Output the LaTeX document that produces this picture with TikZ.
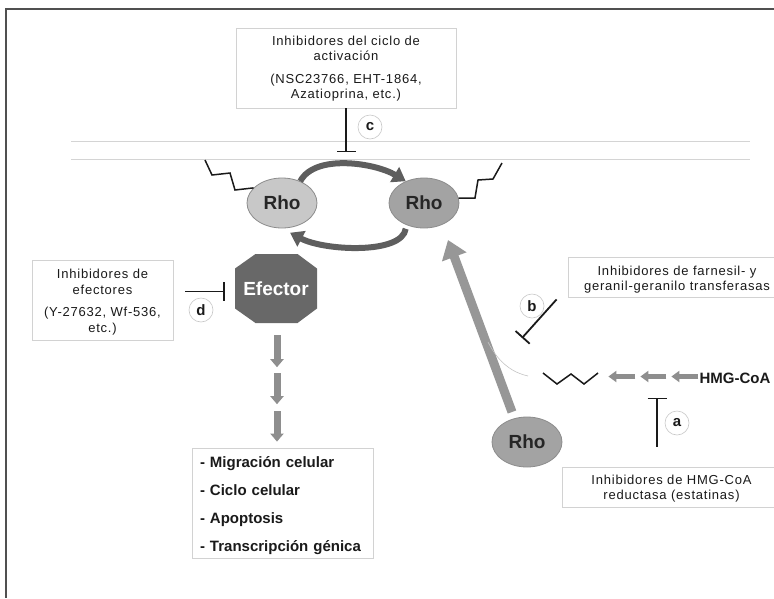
\documentclass[tikz,border=0pt]{standalone}
\usepackage{fontspec}
\setmainfont{Liberation Sans}
\newfontfamily\boxfont[LetterSpace=6]{Liberation Sans}
\usetikzlibrary{arrows.meta,shapes.geometric}
\newcommand{\tstrut}[1]{\rule{0pt}{#1}}
\definecolor{framegray}{HTML}{505050}
\definecolor{membgray}{HTML}{D4D4D4}
\definecolor{boxgray}{HTML}{D2D2D2}
\definecolor{lblgray}{HTML}{C8C8C8}
\definecolor{rholight}{HTML}{C8C8C8}
\definecolor{rhodark}{HTML}{A3A3A3}
\definecolor{rhoedge}{HTML}{8C8C8C}
\definecolor{rhotext}{HTML}{262626}
\definecolor{effgray}{HTML}{686868}
\definecolor{arrgray}{HTML}{8E8E8E}
\definecolor{biggray}{HTML}{979797}
\definecolor{cycgray}{HTML}{5E5E5E}
\definecolor{thingray}{HTML}{C4C4C4}
\definecolor{inkblack}{HTML}{1A1A1A}
\begin{document}
\begin{tikzpicture}[x=1pt,y=-1pt,
  infobox/.style={draw=boxgray, line width=0.8pt, fill=white, align=center, inner sep=0pt,
    font=\boxfont\fontsize{13}{15}\selectfont, text=inkblack},
  rho/.style={ellipse, draw=rhoedge, line width=0.8pt, minimum width=70pt, minimum height=50pt,
    inner sep=0pt, font=\bfseries\fontsize{19}{19}\selectfont, text=rhotext},
  inhib/.style={line width=1.8pt, draw=inkblack, -{Bar[width=19pt]}},
  lbl/.style={circle, draw=lblgray, line width=0.6pt, fill=white, minimum size=24pt, inner sep=0pt,
    font=\bfseries\fontsize{15}{15}\selectfont, text=inkblack},
  blockdown/.style={line width=7pt, draw=arrgray, -{Triangle[width=13pt,length=8pt]}},
  blockleft/.style={line width=5pt, draw=arrgray, -{Triangle[width=11pt,length=8pt]}},
  cyc/.style={line width=6pt, draw=cycgray, -{Triangle[width=17pt,length=13pt]}},
  bigarr/.style={line width=9pt, draw=biggray, -{Triangle[width=25pt,length=18pt]}},
  zig/.style={line width=1.5pt, draw=inkblack, line join=miter},
  memb/.style={line width=1pt, draw=membgray},
  framel/.style={line width=2pt, draw=framegray}
]
\useasboundingbox (0,0) rectangle (774,598);
\fill[white] (0,0) rectangle (774,598);

% frame
\draw[framel] (774,9) -- (6,9) -- (6,598);

% membrane
\coordinate (m1a) at (71,141); \coordinate (m1b) at (750,141);
\coordinate (m2a) at (71,159); \coordinate (m2b) at (750,159);
\draw[memb] (m1a) -- (m1b);
\draw[memb] (m2a) -- (m2b);

% boxes
\node[infobox, minimum width=220pt, minimum height=80pt] (boxc) at (346,68)
  {\tstrut{11.5pt}Inhibidores del ciclo de\\activación\\[8pt](NSC23766, EHT-1864,\\Azatioprina, etc.)};
\node[infobox, minimum width=141pt, minimum height=80pt, font=\boxfont\fontsize{13}{16.5}\selectfont] (boxd) at (102.5,300)
  {\tstrut{13.5pt}Inhibidores de\\efectores\\[5pt](Y-27632, Wf-536,\\etc.)};
\node[infobox, minimum width=218pt, minimum height=40pt] (boxb) at (677,277)
  {\tstrut{15.5pt}Inhibidores de farnesil- y\\geranil-geranilo transferasas};
\node[infobox, minimum width=219pt, minimum height=40pt] (boxa) at (671.5,487)
  {\tstrut{13.5pt}Inhibidores de HMG-CoA\\reductasa (estatinas)};
\node[draw=boxgray, line width=0.8pt, fill=white, minimum width=181pt, minimum height=110pt,
  text width=165pt, align=left, inner sep=0pt, text=inkblack,
  font=\bfseries\fontsize{15}{28}\selectfont] (outc) at (282.5,503)
  {\tstrut{16pt}- Migración celular\\- Ciclo celular\\- Apoptosis\\- Transcripción génica};

% Rho proteins
\node[rho, fill=rholight] (rhoL) at (282,203) {Rho};
\node[rho, fill=rhodark] (rhoR) at (424,203) {Rho};
\node[rho, fill=rhodark] (rhoB) at (527,442) {Rho};

% lipid anchors
\coordinate (zl) at (205,160);
\draw[zig] (zl) -- ++(7,15) -- ++(18,-2) -- ++(5,17) -- (rhoL.152);
\coordinate (zr) at (502,163);
\draw[zig] (rhoR.8) -- (475,198) -- (478,180) -- (493,179) -- (zr);
\coordinate (zb) at (543,373);
\coordinate (zbe) at (598,373);
\draw[zig] (zb) -- ++(14,11) -- ++(14,-10) -- ++(13,10) -- (zbe);

% activation cycle
\draw[cyc] (rhoL.50) .. controls +(15,-28) and +(-30,-18) .. (rhoR.130);
\draw[cyc] ([yshift=-4pt]rhoR.-130) .. controls +(-4,26) and +(34,18) .. ([yshift=-5pt]rhoL.-72);

% efector (octagon)
\coordinate (effc) at (276,288.5);
\fill[effgray] ([shift={(-20.5,-34.5)}]effc) -- ([shift={(21.5,-34.5)}]effc)
  -- ([shift={(41,-20)}]effc) -- ([shift={(41,20)}]effc)
  -- ([shift={(21.5,34.5)}]effc) -- ([shift={(-20.5,34.5)}]effc)
  -- ([shift={(-41,20)}]effc) -- ([shift={(-41,-20)}]effc) -- cycle;
\node[minimum width=82pt, minimum height=69pt, inner sep=0pt,
  text=white, font=\bfseries\fontsize{19}{19}\selectfont] (eff) at (effc) {\makebox[0pt]{Efector}};

% downstream arrows
\coordinate (dn1) at ([shift={(1,12)}]eff.south);
\coordinate (dn2) at ([shift={(1,50)}]eff.south);
\coordinate (dn3) at ([shift={(1,88)}]eff.south);
\draw[blockdown] (dn1) -- +(0,32);
\draw[blockdown] (dn2) -- +(0,31);
\draw[blockdown] (dn3) -- ([yshift=6pt]dn3 |- outc.north);

% big arrow Rho -> membrane
\draw[bigarr] ([shift={(-15,-30)}]rhoB.center) -- ([shift={(24,37)}]rhoR.center);

% thin curve
\coordinate (tc1) at (488,342);
\coordinate (tc2) at (528,376);
\draw[thingray, line width=0.6pt] (tc1) .. controls (499,364) and (514,373) .. (tc2);

% HMG-CoA pathway
\node[font=\bfseries\fontsize{15}{15}\selectfont, text=inkblack, inner sep=0pt] (hmg) at (735,378) {HMG-CoA};
\coordinate (hl) at ([shift={(-1,-1.5)}]hmg.west);
\draw[blockleft] (hl) -- +(-27,0);
\draw[blockleft] ([xshift=-32pt]hl) -- +(-26,0);
\draw[blockleft] ([xshift=-63pt]hl) -- +(-27,0);

% inhibitions
\draw[inhib] (boxc.south) -- ++(0,44);
\draw[inhib] ([shift={(12,3)}]boxd.east |- eff.west) -- ([shift={(-10,3)}]eff.west);
\coordinate (bend) at (522,338);
\draw[inhib] ([shift={(-11,2)}]boxb.south west) -- (bend);
\draw[inhib] ([shift={(-14.5,-20)}]boxa.north) -- +(0,-49);

% labels
\node[lbl] (la) at (677,423) {a};
\node[lbl] (lb) at (532,306) {b};
\node[lbl] (lc) at (370,127) {c};
\node[lbl] (ld) at (201,310) {d};
\end{tikzpicture}
\end{document}
